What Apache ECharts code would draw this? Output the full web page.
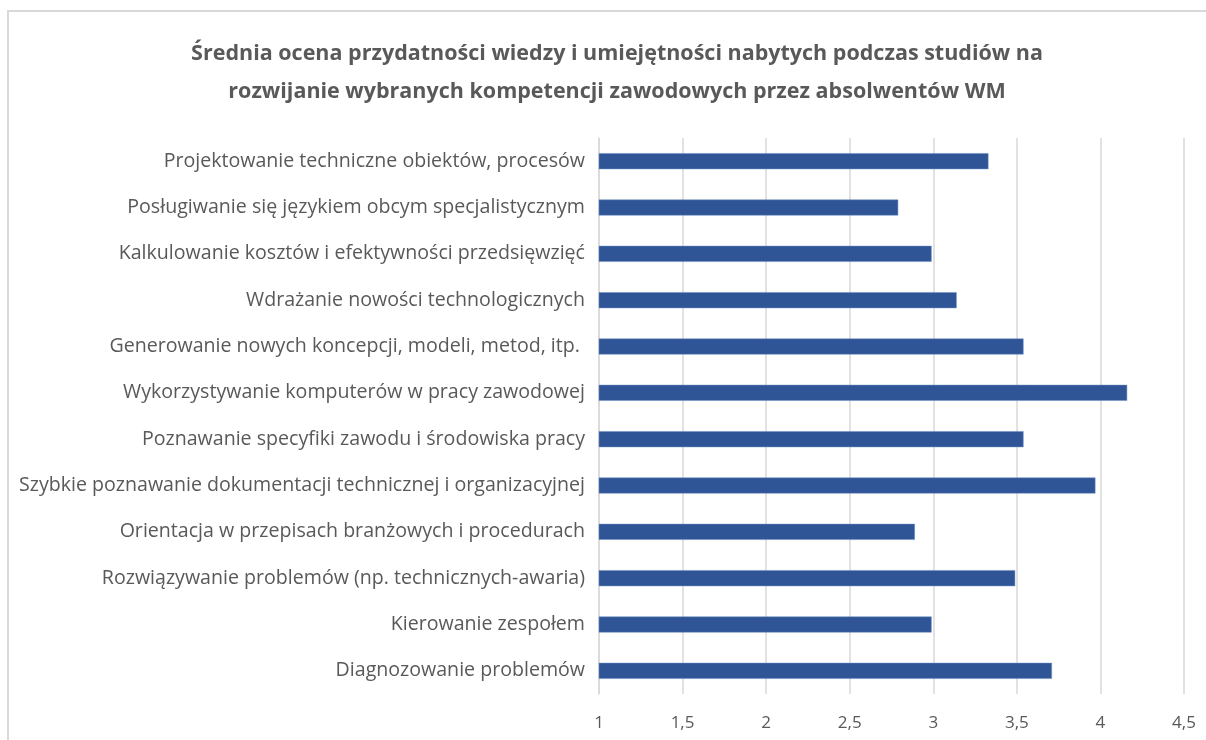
<!DOCTYPE html>
<html>
<head>
<meta charset="utf-8">
<script src="https://cdn.jsdelivr.net/npm/echarts@6/dist/echarts.min.js"></script>
<style>
    html, body { margin: 0; padding: 0; background: #fff; }
    #frame {
        position: absolute; left: 7px; top: 10px; width: 1300px; height: 900px;
        border: 2px solid #d9d9d9; box-sizing: border-box;
    }
    #chart { position: absolute; left: 0; top: 0; width: 1206px; height: 740px; }
</style>
</head>
<body>
<div id="frame"></div>
<div id="chart"></div>
<script>
// Competences, top to bottom as in the chart
const categories = [
    'Projektowanie techniczne obiektów, procesów',
    'Posługiwanie się językiem obcym specjalistycznym',
    'Kalkulowanie kosztów i efektywności przedsięwzięć',
    'Wdrażanie nowości technologicznych',
    'Generowanie nowych koncepcji, modeli, metod, itp. ',
    'Wykorzystywanie komputerów w pracy zawodowej',
    'Poznawanie specyfiki zawodu i środowiska pracy',
    'Szybkie poznawanie dokumentacji technicznej i organizacyjnej',
    'Orientacja w przepisach branżowych i procedurach',
    'Rozwiązywanie problemów (np. technicznych-awaria)',
    'Kierowanie zespołem',
    'Diagnozowanie problemów'
];

// Average scores
const scores = [3.33, 2.79, 2.99, 3.14, 3.54, 4.16, 3.54, 3.97, 2.89, 3.49, 2.99, 3.71];

const chartTitle = 'Średnia ocena przydatności wiedzy i umiejętności nabytych podczas studiów na\nrozwijanie wybranych kompetencji zawodowych przez absolwentów WM';

const chart = echarts.init(document.getElementById('chart'));

const option = {
    animation: false,
    title: {
        text: chartTitle,
        left: 612,
        textAlign: 'center',
        top: 30,
        textStyle: {
            fontFamily: '"Open Sans", sans-serif',
            fontWeight: 'bold',
            fontSize: 21.5,
            lineHeight: 38,
            color: '#595959'
        }
    },
    grid: { left: 599, right: 22, top: 138, bottom: 46 },
    xAxis: {
        type: 'value',
        min: 1,
        max: 4.5,
        interval: 0.5,
        axisLine: { show: false },
        axisTick: { show: false },
        splitLine: { lineStyle: { color: '#d9d9d9', width: 1.5 } },
        axisLabel: {
            margin: 21,
            color: '#595959',
            fontSize: 17,
            fontFamily: '"Open Sans", sans-serif',
            formatter: v => String(v).replace('.', ',')
        }
    },
    yAxis: {
        type: 'category',
        inverse: true,
        data: categories,
        axisLine: { show: true, lineStyle: { color: '#d9d9d9', width: 1.5 } },
        axisTick: { show: false },
        axisLabel: {
            margin: 14,
            color: '#595959',
            fontSize: 19.6,
            fontFamily: '"Open Sans", sans-serif'
        }
    },
    series: [{
        type: 'bar',
        data: scores,
        barWidth: 16,
        itemStyle: { color: '#2F5597', borderColor: '#6f8fc4', borderWidth: 0.5 }
    }]
};

chart.setOption(option);
</script>
</body>
</html>
